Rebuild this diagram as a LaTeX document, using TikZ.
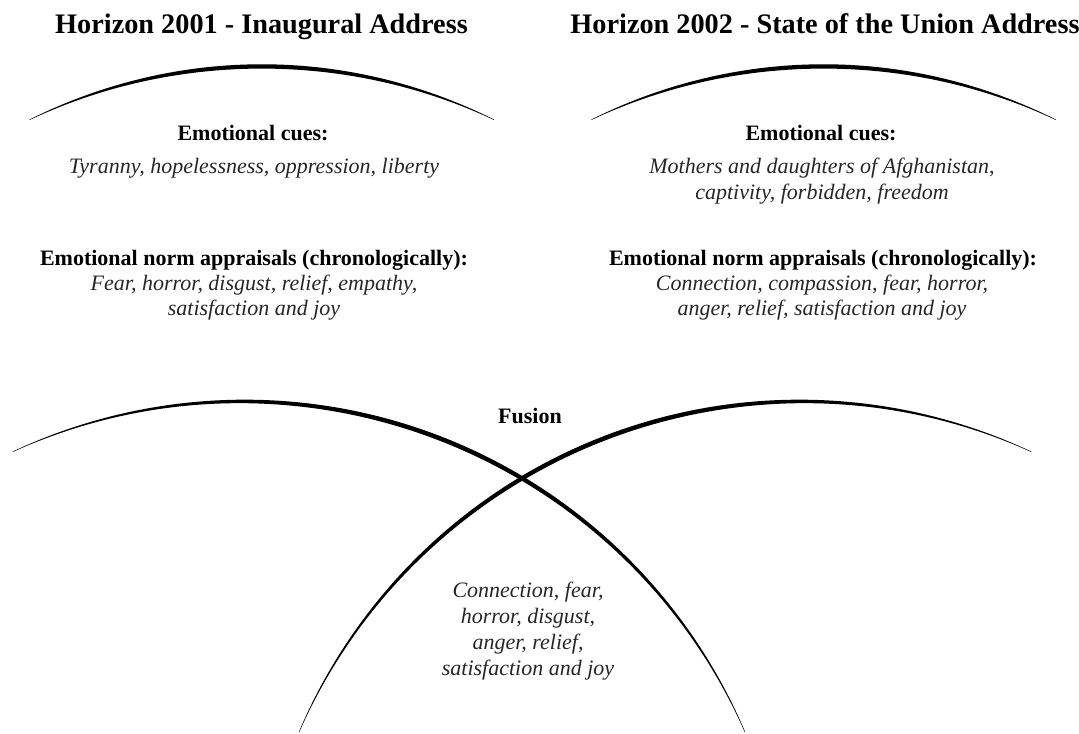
\documentclass[tikz,border=0pt]{standalone}
\usepackage{fontspec}
\setmainfont{Liberation Serif}

% Tapered circular stroke: centre (#1,#2), radius #3, from angle #4 to #5,
% thickest (#6) in the middle and thin at both ends.
\newcommand\taperarc[6]{%
  \fill[arcink] plot[domain=#4:#5, samples=180, variable=\t]
    ({#1+(#3+0.5*(0.45+(#6-0.45)*sin((\t-(#4))/((#5)-(#4))*180)))*cos(\t)},
     {#2+(#3+0.5*(0.45+(#6-0.45)*sin((\t-(#4))/((#5)-(#4))*180)))*sin(\t)})
    -- plot[domain=#4:#5, samples=180, variable=\s]
    ({#1+(#3-0.5*(0.45+(#6-0.45)*sin(((#5)-\s)/((#5)-(#4))*180)))*cos((#4)+(#5)-\s)},
     {#2+(#3-0.5*(0.45+(#6-0.45)*sin(((#5)-\s)/((#5)-(#4))*180)))*sin((#4)+(#5)-\s)})
    -- cycle;}

\begin{document}
\begin{tikzpicture}[x=0.75pt, y=-0.75pt,
  arcink/.style={black},
  title/.style={font=\fontsize{21.2}{25}\selectfont\bfseries, anchor=base, inner sep=0pt},
  head/.style={font=\fontsize{16.5}{19}\selectfont\bfseries, anchor=base, inner sep=0pt},
  cue/.style={font=\fontsize{16.5}{19}\selectfont\itshape, text=black!85, anchor=base, inner sep=0pt}]

\useasboundingbox (0,0) rectangle (1079,733);

% horizon arcs under the two titles
\taperarc{261.8}{598.8}{532.4}{-115.86}{-64.14}{4.3}
\taperarc{823.6}{598.8}{532.4}{-115.86}{-64.14}{4.3}

% the two large crossing arcs
\taperarc{242.06}{949.2}{547.8}{-114.75}{-23.36}{4.5}
\taperarc{801.94}{949.2}{547.8}{-156.64}{-65.25}{4.5}

% titles
\node[title] (t1) at (261.5,33) {Horizon 2001 - Inaugural Address};
\node[title] (t2) at (825,33) {Horizon 2002 - State of the Union Address};

% left column
\node[head] (l1) at (253,140) {Emotional cues:};
\node[cue]  (l2) at (254,173.5) {Tyranny, hopelessness, oppression, liberty};
\node[head] (l3) at (254,265) {Emotional norm appraisals (chronologically):};
\node[cue]  (l4) at (254,290) {Fear, horror, disgust, relief, empathy,};
\node[cue]  (l5) at (254,315) {satisfaction and joy};

% right column
\node[head] (r1) at (821,140) {Emotional cues:};
\node[cue]  (r2) at (822,173.5) {Mothers and daughters of Afghanistan,};
\node[cue]  (r3) at (822,199) {captivity, forbidden, freedom};
\node[head] (r4) at (823,265) {Emotional norm appraisals (chronologically):};
\node[cue]  (r5) at (822,290) {Connection, compassion, fear, horror,};
\node[cue]  (r6) at (822,315) {anger, relief, satisfaction and joy};

% fusion
\node[head] (f0) at (530,423) {Fusion};
\node[cue]  (f1) at (528,597.7) {Connection, fear,};
\node[cue]  (f2) at (528,623.7) {horror, disgust,};
\node[cue]  (f3) at (528,649.7) {anger, relief,};
\node[cue]  (f4) at (528,675.7) {satisfaction and joy};

\end{tikzpicture}
\end{document}
